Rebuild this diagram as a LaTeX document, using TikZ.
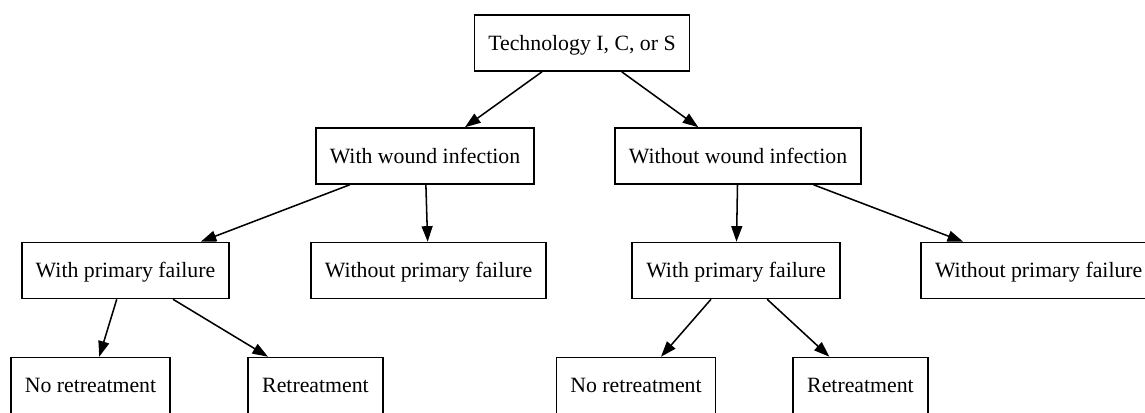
\documentclass[tikz,border=0pt]{standalone}
\usepackage{fontspec}
\setmainfont{Liberation Serif}
\usepackage{tikz}
\usetikzlibrary{arrows.meta}
\usetikzlibrary{positioning}

\tikzset{
  treebox/.style={draw, line width=1.15pt, rectangle, inner xsep=10.5pt, minimum height=42pt,
    text height=12.3pt, text depth=1.6pt, font=\fontsize{16.35}{19}\selectfont},
  treeedge/.style={line width=1.15pt, -{Triangle[length=11.7pt,width=8.2pt]}}
}

\begin{document}
\begin{tikzpicture}[x=0.75pt,y=0.75pt,yscale=-1,xscale=1]
  \useasboundingbox (0,0) rectangle (1145,412);

  % Text Node
  \node [treebox] (tech) at (582,43) {Technology I, C, or S};
  % Text Node
  \node [treebox] (wwi) at (425,156) {With wound infection};
  % Text Node
  \node [treebox] (wowi) at (738,156) {Without wound infection};
  % Text Node
  \node [treebox] (lwpf) at (125.5,270.5) {With primary failure};
  % Text Node
  \node [treebox] (lwopf) at (428.5,270.5) {Without primary failure};
  % Text Node
  \node [treebox] (rwpf) at (736,270.5) {With primary failure};
  % Text Node
  \node [treebox] (rwopf) at (1038.7,270.5) {Without primary failure};
  % Text Node
  \node [treebox] (lnr) at (90.5,385.5) {No retreatment};
  % Text Node
  \node [treebox] (lr) at (315.5,385.5) {Retreatment};
  % Text Node
  \node [treebox] (rnr) at (636,385.5) {No retreatment};
  % Text Node
  \node [treebox] (rr) at (860.5,385.5) {Retreatment};

  %Straight Lines
  \draw [treeedge] (tech) -- (wwi);
  \draw [treeedge] (tech) -- (wowi);
  \draw [treeedge] (wwi) -- (lwpf);
  \draw [treeedge] (wwi) -- (lwopf);
  \draw [treeedge] (wowi) -- (rwpf);
  \draw [treeedge] (wowi) -- (rwopf);
  \draw [treeedge] (lwpf) -- (lnr);
  \draw [treeedge] (lwpf) -- (lr);
  \draw [treeedge] (rwpf) -- (rnr);
  \draw [treeedge] (rwpf) -- (rr);
\end{tikzpicture}
\end{document}
